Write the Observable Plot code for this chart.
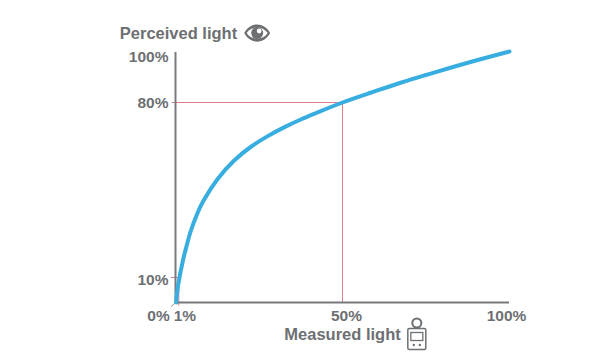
<!DOCTYPE html>
<html>
<head>
<meta charset="utf-8">
<script src="https://cdn.jsdelivr.net/npm/d3@7"></script>
<script src="https://cdn.jsdelivr.net/npm/@observablehq/plot@0.6"></script>
<style>
html,body{margin:0;padding:0;background:#fff}
svg{display:block}
</style>
</head>
<body>
<div id="chart"></div>
<script>
const measured =  [0.2, 0.4, 0.8, 1.2, 1.6, 2.5, 3.4, 4.5, 6.5, 8.5, 12.5, 17.5, 22.5, 27.5, 32.5, 37.5, 42.5, 50, 58.4, 67.4, 75, 82.3, 91.3, 100];
const perceived = [0, 3, 7, 10, 12.8, 18.4, 23, 28.3, 35.5, 41, 49.2, 56.7, 62.2, 66.45, 70.05, 73.2, 76, 80, 83.9, 87.9, 91, 93.9, 97.3, 100.4];
const xTickLabels = [["0%", 0, -17], ["1%", 1, 6], ["50%", 50, 4], ["100%", 100, -3]];
const yTickLabels = [["10%", 10, 3], ["80%", 80, 1], ["100%", 100, 5]];
const guidesX = [1, 50];
const guidesY = [10, 80];
const xTitle = "Measured light";
const yTitle = "Perceived light";

const ink = "#6d7073";
const red = "#dc7f86";
const font = "'Liberation Sans', Arial, sans-serif";

const eyeIcon = (i, s) => {
  const g = d3.create("svg:g").attr("transform", `translate(${s.x(24.6)},${s.y(107.6)})`);
  g.append("path").attr("fill", ink).attr("fill-rule", "evenodd")
    .attr("d", "M-13,0 C-7,-11.5 7,-11.5 13,0 C7,11.5 -7,11.5 -13,0 Z M-10.5,0 C-6,7.5 6,7.5 10.5,0 C6,-7.5 -6,-7.5 -10.5,0 Z");
  g.append("circle").attr("r", 6).attr("fill", ink);
  g.append("circle").attr("cx", 2).attr("cy", -2).attr("r", 2.4).attr("fill", "#fff");
  return g.node();
};
const meterIcon = (i, s) => {
  const g = d3.create("svg:g").attr("transform", `translate(${s.x(72.4)},${s.y(-12.6)})`).attr("fill", "none").attr("stroke", ink);
  g.append("circle").attr("cy", -10.5).attr("r", 4.5).attr("stroke-width", 2);
  g.append("rect").attr("x", -9).attr("y", -5).attr("width", 18).attr("height", 21).attr("rx", 1.5).attr("fill", "#fff").attr("stroke-width", 1.5);
  g.append("rect").attr("x", -6).attr("y", -1).attr("width", 12).attr("height", 8).attr("stroke-width", 1.3);
  g.append("circle").attr("cx", -3).attr("cy", 11.5).attr("r", 1.2).attr("fill", ink).attr("stroke", "none");
  g.append("circle").attr("cx", 3).attr("cy", 11.5).attr("r", 1.2).attr("fill", ink).attr("stroke", "none");
  return g.node();
};

const curve = measured.map((m, k) => ({m, p: perceived[k]}));
const titleOpts = {fill: ink, fontWeight: "bold", fontSize: 16.5};
const tickOpts = {fill: ink, fontWeight: "bold", fontSize: 15.5};

const chart = Plot.plot({
  width: 600, height: 357,
  margin: 0,
  style: {fontFamily: font, background: "#fff"},
  x: {domain: [0, 100], range: [175, 509], axis: null},
  y: {domain: [0, 100], range: [302, 52], axis: null},
  marks: [
    Plot.ruleX(guidesX.slice(1), {y1: 0, y2: 80, stroke: red, strokeWidth: 1}),
    Plot.ruleY(guidesY.slice(1), {x1: -1, x2: 50, stroke: red, strokeWidth: 1}),
    Plot.ruleY(guidesY.slice(0, 1), {x1: -1.2, x2: 1.8, stroke: red, strokeWidth: 1}),
    Plot.ruleX(guidesX.slice(0, 1), {y1: -1.5, y2: 6, stroke: red, strokeWidth: 1}),
    Plot.link([0], {x1: 0, y1: 0, x2: -1.3, y2: -1.6, stroke: "#8a8c8e", strokeWidth: 1}),
    Plot.ruleX([0], {y1: 0, y2: 100, stroke: "#77797b", strokeWidth: 2}),
    Plot.ruleY([0], {x1: 0, x2: 100, stroke: "#77797b", strokeWidth: 2}),
    Plot.line(curve, {x: "m", y: "p", stroke: "#38ade0", strokeWidth: 4, curve: "natural"}),
    ...xTickLabels.map(([t, v, dx]) => Plot.text([t], {x: [v], y: [0], text: d => d, dx, dy: 14, ...tickOpts})),
    ...yTickLabels.map(([t, v, dy]) => Plot.text([t], {x: [0], y: [v], text: d => d, textAnchor: "end", dx: -7, dy, ...tickOpts})),
    Plot.text([yTitle], {x: [0], y: [100], text: d => d, dx: 3, dy: -19, ...titleOpts}),
    Plot.text([xTitle], {x: [50], y: [0], text: d => d, dx: 0, dy: 32, ...titleOpts}),
    eyeIcon,
    meterIcon
  ]
});
document.getElementById("chart").appendChild(chart);
</script>
</body>
</html>
